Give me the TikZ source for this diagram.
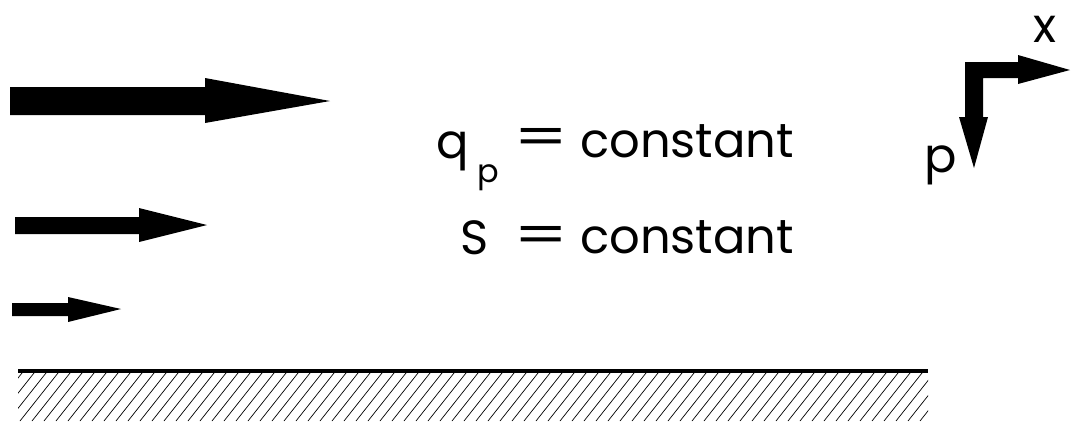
\documentclass[tikz,border=0pt]{standalone}
\usepackage{graphicx}
\usepackage{fontspec}
\setmainfont{Poppins}
\begin{document}
\begin{tikzpicture}[x=1pt,y=-1pt,
	flow/.style={fill=black},
	txt/.style={inner sep=0pt,font=\fontsize{48}{52}\selectfont}]
		\useasboundingbox (0,0) rectangle (1079,421);
		%draw flow arrows
		\fill[flow] (10,87)--(205,87)--(205,78)--(330,101)--(205,123)--(205,115)--(10,115)--cycle;
		\fill[flow] (15,217)--(139,217)--(139,208)--(207,225)--(139,242)--(139,234)--(15,234)--cycle;
		\fill[flow] (12,303)--(68,303)--(68,297)--(121,309)--(68,322)--(68,316)--(12,316)--cycle;
		%draw axes
		\fill[flow] (965,62)--(1018,62)--(1018,55)--(1070,70)--(1018,84)--(1018,78)--(983,78)
			--(983,117)--(988,117)--(974,168)--(959,117)--(965,117)--cycle;
		\node[txt,anchor=base] (xlbl) at (1045,42) {x};
		\node[txt,anchor=base east] (plbl) at (957,172) {p};
		%draw labels
		\node[txt,anchor=base west] (const1) at (580,157) {constant};
		\node[txt,anchor=base west] (const2) at (580,253) {constant};
		\node[txt] (eq1) at (541,142) {\scalebox{1.6}[1.1]{=}};
		\node[txt] (eq2) at (541,240) {\scalebox{1.6}[1.1]{=}};
		\node[txt,anchor=base east] (qlbl) at (469,158) {q};
		\node[inner sep=0pt,font=\fontsize{32}{34}\selectfont,anchor=base west] (qsub) at (477,182) {p};
		\node[txt,anchor=base east] (slbl) at (489,254) {S};
		%draw ground
		\draw[line width=4.5] (18,371) -- (928,371);
		\begin{scope}
			\clip (18,373.5) rectangle (928,421);
			\foreach \i in {-40,-28,...,930}
				\draw[line width=0.7] (\i,421) -- (\i+38,373);
		\end{scope}
	\end{tikzpicture}
\end{document}
